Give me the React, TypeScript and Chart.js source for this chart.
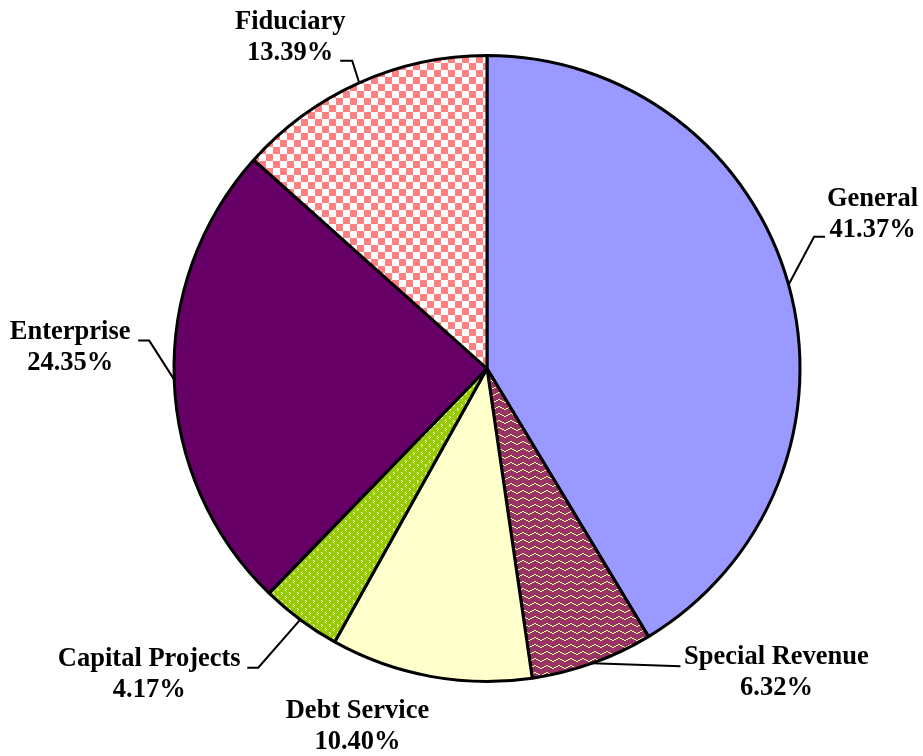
import React, { useEffect, useRef } from "react";
import { Chart, registerables } from "chart.js";

Chart.register(...registerables);

const categories = ["General", "Special Revenue", "Debt Service", "Capital Projects", "Enterprise", "Fiduciary"];
const shares = [41.37, 6.32, 10.4, 4.17, 24.35, 13.39];
const shareLabels = ["41.37%", "6.32%", "10.40%", "4.17%", "24.35%", "13.39%"];

// label layout relative to the slice's outer mid point: text centre dx, first baseline dy, leader points
const labelLayout = [
  { dx: 84, dy: -79, leader: [[25.5, -48], [36.5, -48]] },
  { dx: 184, dy: 1, leader: [[88, 3]] },
  { dx: -73, dy: 42, leader: [] },
  { dx: -151, dy: 46, leader: [[-42, 48], [-53, 48]] },
  { dx: -104, dy: -41, leader: [[-25, -39], [-36, -39]] },
  { dx: -69, dy: -54, leader: [[-7, -22], [-19, -22]] },
];

function makeTile(w: number, h: number, draw: (c: CanvasRenderingContext2D) => void) {
  const cv = document.createElement("canvas");
  cv.width = w;
  cv.height = h;
  const c = cv.getContext("2d")!;
  draw(c);
  return cv;
}

function buildFills(ctx: CanvasRenderingContext2D) {
  const zig = makeTile(12, 7, (c) => {
    c.fillStyle = "#993366";
    c.fillRect(0, 0, 12, 7);
    c.fillStyle = "#FFFF99";
    const ys = [3, 3, 2, 2, 1, 1, 0, 0, 1, 1, 2, 2];
    ys.forEach((y, x) => c.fillRect(x, y, 1, 1));
  });
  const dots = makeTile(8, 8, (c) => {
    c.fillStyle = "#99CC00";
    c.fillRect(0, 0, 8, 8);
    c.fillStyle = "#FFFFFF";
    c.fillRect(1, 0, 1, 1);
    c.fillRect(2, 1, 1, 1);
    c.fillRect(1, 2, 1, 1);
    c.fillRect(5, 4, 1, 1);
    c.fillRect(6, 5, 1, 1);
    c.fillRect(5, 6, 1, 1);
  });
  const check = makeTile(14, 14, (c) => {
    c.fillStyle = "#FFFFFF";
    c.fillRect(0, 0, 14, 14);
    c.fillStyle = "#FF8080";
    c.fillRect(0, 0, 7, 7);
    c.fillRect(7, 7, 7, 7);
  });
  return [
    "#9999FF",
    ctx.createPattern(zig, "repeat"),
    "#FFFFCC",
    ctx.createPattern(dots, "repeat"),
    "#660066",
    ctx.createPattern(check, "repeat"),
  ];
}

const labelPlugin = {
  id: "sliceLabels",
  afterDatasetsDraw(chart: any) {
    const ctx: CanvasRenderingContext2D = chart.ctx;
    const meta = chart.getDatasetMeta(0);
    ctx.save();
    ctx.font = "bold 26.5px 'Liberation Serif', 'Times New Roman', serif";
    ctx.fillStyle = "#000";
    ctx.textAlign = "center";
    ctx.textBaseline = "alphabetic";
    ctx.strokeStyle = "#000";
    ctx.lineWidth = 2;
    meta.data.forEach((arc: any, i: number) => {
      const mid = (arc.startAngle + arc.endAngle) / 2;
      const ex = arc.x + Math.cos(mid) * arc.outerRadius;
      const ey = arc.y + Math.sin(mid) * arc.outerRadius;
      const lay = labelLayout[i];
      if (lay.leader.length) {
        ctx.beginPath();
        ctx.moveTo(ex, ey);
        lay.leader.forEach(([lx, ly]) => ctx.lineTo(ex + lx, ey + ly));
        ctx.stroke();
      }
      ctx.fillText(categories[i], ex + lay.dx, ey + lay.dy);
      ctx.fillText(shareLabels[i], ex + lay.dx, ey + lay.dy + 31);
    });
    ctx.restore();
  },
};

export default function App() {
  const ref = useRef<HTMLCanvasElement>(null);
  useEffect(() => {
    document.body.style.margin = "0";
    const canvas = ref.current!;
    const ctx = canvas.getContext("2d")!;
    const chart = new Chart(ctx, {
      type: "pie",
      data: {
        labels: categories,
        datasets: [
          {
            data: shares,
            backgroundColor: buildFills(ctx) as any,
            borderColor: "#000000",
            borderWidth: 3,
          },
        ],
      },
      options: {
        responsive: false,
        animation: false,
        layout: { padding: { left: 172.5, right: 121.5, top: 54, bottom: 73 } },
        plugins: { legend: { display: false }, tooltip: { enabled: false } },
      },
      plugins: [labelPlugin],
    });
    return () => chart.destroy();
  }, []);
  return (
    <div style={{ width: 923, height: 756, background: "#fff" }}>
      <canvas ref={ref} width={923} height={756} />
    </div>
  );
}
